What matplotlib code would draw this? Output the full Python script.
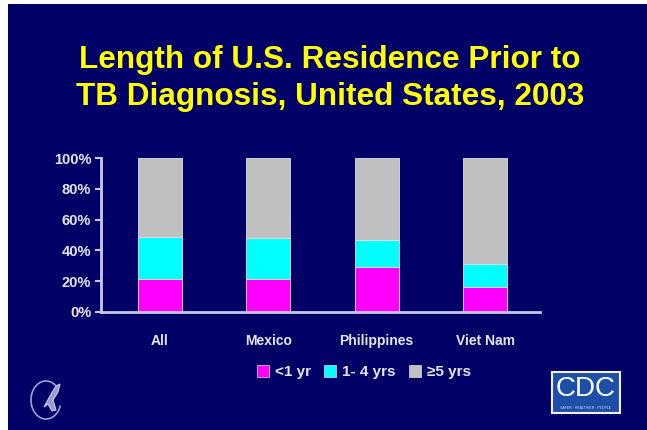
import matplotlib
matplotlib.use("Agg")
import matplotlib.pyplot as plt
import matplotlib.patches as mpatches
import numpy as np

# data (percent)
categories = ["All", "Mexico", "Philippines", "Viet Nam"]
under_1yr = [21, 21, 29, 16]
yrs_1_4 = [28, 27, 18, 15]
yrs_5plus = [51, 52, 53, 69]
series_names = ["<1 yr", "1- 4 yrs", "\u22655 yrs"]
yticks = [0, 20, 40, 60, 80, 100]

navy = "#000066"
colors = ["#ff00ff", "#00ffff", "#c0c0c0"]
axis_col = "#c8c8e6"
text_col = "#e6e6f0"

plt.rcParams["font.family"] = ["Liberation Sans", "DejaVu Sans"]
plt.rcParams["font.weight"] = "bold"

fig = plt.figure(figsize=(6.47, 4.3), dpi=100)
fig.patch.set_facecolor("white")

# navy slide background (white margin at left and top)
bg = mpatches.Rectangle((8 / 647, 0), 1, 1 - 4 / 430, transform=fig.transFigure,
                        facecolor=navy, edgecolor="none", zorder=-10)
fig.patches.append(bg)

# title
fig.text(330 / 647, 1 - 60 / 430, "Length of U.S. Residence Prior to",
         color="#ffff00", fontsize=22.7, fontweight="bold", ha="center", va="center")
fig.text(330 / 647, 1 - 97 / 430, "TB Diagnosis, United States, 2003",
         color="#ffff00", fontsize=22.7, fontweight="bold", ha="center", va="center")

ax = fig.add_axes([101 / 647, 118.3 / 430, 439 / 647, 153.4 / 430])
ax.set_facecolor(navy)

x = np.arange(len(categories))
w = 0.405
b1 = np.array(under_1yr)
b2 = b1 + np.array(yrs_1_4)
ax.bar(x, under_1yr, w, color=colors[0], edgecolor="#e0e0e0", linewidth=0.6)
ax.bar(x, yrs_1_4, w, bottom=b1, color=colors[1], edgecolor="#e0e0e0", linewidth=0.6)
ax.bar(x, yrs_5plus, w, bottom=b2, color=colors[2], edgecolor="#e0e0e0", linewidth=0.6)

ax.set_xlim(-0.54, 3.505)
ax.set_ylim(0, 100)
ax.set_yticks(yticks)
ax.set_yticklabels([f"{t}%" for t in yticks])
ax.set_xticks(x)
ax.set_xticklabels(categories)

for s in ["top", "right"]:
    ax.spines[s].set_visible(False)
for s in ["left", "bottom"]:
    ax.spines[s].set_color(axis_col)
    ax.spines[s].set_linewidth(2)
ax.tick_params(axis="y", colors=axis_col, length=4, width=1.5, pad=3,
               labelcolor=text_col, labelsize=10.5)
ax.tick_params(axis="x", length=0, pad=16, labelcolor=text_col, labelsize=10)

# legend
handles = [mpatches.Patch(facecolor=c, edgecolor="#e0e0e0", linewidth=0.5) for c in colors]
leg = fig.legend(handles, series_names, loc="center", bbox_to_anchor=(364 / 647, 1 - 372 / 430),
                 ncol=3, frameon=False, fontsize=11, handlelength=0.75, handleheight=0.8,
                 handletextpad=0.4, columnspacing=0.9, borderaxespad=0)
for t in leg.get_texts():
    t.set_color(text_col)

# CDC logo (simple box)
cdc = mpatches.Rectangle((552 / 647, 1 - 413 / 430), 68 / 647, 41 / 430,
                         transform=fig.transFigure, facecolor="#1d4fa8",
                         edgecolor="#f0f0f0", linewidth=1.5)
fig.patches.append(cdc)
fig.text(586 / 647, 1 - 389 / 430, "CDC", color="white", fontsize=20,
         family=["Liberation Sans Narrow", "Liberation Sans"], fontweight="normal",
         ha="center", va="center")
fig.text(586 / 647, 1 - 408 / 430, "SAFER \u00b7 HEALTHIER \u00b7 PEOPLE", color="#d0d8f0",
         fontsize=2.5, fontweight="normal", ha="center", va="center")

# HHS logo (rough outline: open circle + stylised eagle)
arc = mpatches.Arc((46 / 647, 1 - 400 / 430), 30 / 647, 38 / 430, theta1=60, theta2=330,
                   transform=fig.transFigure, edgecolor="#a0a0d0", linewidth=1.2)
fig.patches.append(arc)
eagle = mpatches.Polygon([(44, 407), (50, 396), (56, 386), (60, 384), (58, 392),
                          (53, 400), (56, 410), (52, 411), (48, 404)],
                         closed=True, facecolor="#9a9ad0", edgecolor="#c8c8e8",
                         linewidth=0.8)
eagle.set_xy([(px / 647, 1 - py / 430) for px, py in eagle.get_xy()])
eagle.set_transform(fig.transFigure)
fig.patches.append(eagle)

fig.savefig("out.png", dpi=100, facecolor=fig.get_facecolor())
